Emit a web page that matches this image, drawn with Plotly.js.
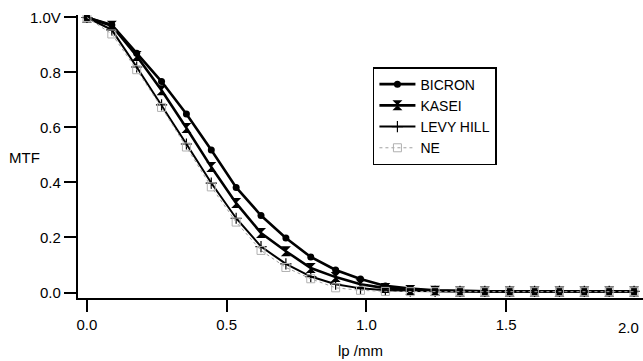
<!DOCTYPE html>
<html>
<head>
<meta charset="utf-8">
<script src="https://cdn.plot.ly/plotly-3.0.1.min.js"></script>
<style>html,body{margin:0;padding:0;background:#fff;}#chart{width:643px;height:361px;}</style>
</head>
<body>
<div id="chart"></div>
<script>
// spatial frequency, lp/mm
const freq = [0, 0.089, 0.178, 0.267, 0.356, 0.445, 0.534, 0.623, 0.712, 0.801, 0.890, 0.979,
  1.068, 1.157, 1.246, 1.335, 1.424, 1.513, 1.602, 1.691, 1.780, 1.869, 1.958];
const bicron = [1.0, 0.973, 0.870, 0.767, 0.649, 0.518, 0.382, 0.280, 0.198, 0.129, 0.082, 0.049,
  0.024, 0.014, 0.008, 0.005, 0.004, 0.004, 0.004, 0.004, 0.004, 0.004, 0.004];
const kasei = [1.0, 0.970, 0.860, 0.735, 0.598, 0.456, 0.325, 0.216, 0.150, 0.089, 0.056, 0.030,
  0.016, 0.009, 0.006, 0.004, 0.004, 0.004, 0.004, 0.004, 0.004, 0.004, 0.004];
const levyHill = [1.0, 0.955, 0.820, 0.682, 0.540, 0.398, 0.270, 0.167, 0.104, 0.058, 0.030, 0.015,
  0.008, 0.005, 0.004, 0.004, 0.004, 0.004, 0.004, 0.004, 0.004, 0.004, 0.004];
const ne = [1.0, 0.940, 0.810, 0.673, 0.529, 0.384, 0.256, 0.153, 0.091, 0.050, 0.017, 0.008,
  0.004, 0.003, 0.003, 0.003, 0.003, 0.003, 0.003, 0.003, 0.003, 0.003, 0.003];
const seriesNames = ['BICRON', 'KASEI', 'LEVY HILL', 'NE'];
const yTickVals = [0, 0.2, 0.4, 0.6, 0.8, 1.0];
const yTickText = ['0.0', '0.2', '0.4', '0.6', '0.8', '1.0V'];
const xTickVals = [0, 0.5, 1.0, 1.5];
const xTickText = ['0.0', '0.5', '1.0', '1.5'];
const xLastTick = '2.0';

const FONT = 'Liberation Sans, Arial, sans-serif';
const PLOT_W = 565, PLOT_H = 283, TICK_LEN = 12;
const X_RANGE = [-0.032, 1.99];
const Y_RANGE = [-0.02, 1.009];
// tick marks drawn as unclipped line markers, placed half a tick length outside each axis
const xUnitsPerPx = (X_RANGE[1] - X_RANGE[0]) / PLOT_W;
const yUnitsPerPx = (Y_RANGE[1] - Y_RANGE[0]) / PLOT_H;
const xTickMarkY = xTickVals.map(function () { return Y_RANGE[0] - (TICK_LEN / 2) * yUnitsPerPx; });
const yTickMarkX = yTickVals.map(function () { return X_RANGE[0] - (TICK_LEN / 2) * xUnitsPerPx; });

const traces = [
  {x: freq, y: bicron, name: seriesNames[0], mode: 'lines+markers',
   line: {color: '#000', width: 2.6},
   marker: {symbol: 'circle', size: 7, color: '#000'}},
  {x: freq, y: kasei, name: seriesNames[1], mode: 'lines+markers',
   line: {color: '#000', width: 2.6},
   marker: {symbol: 'hourglass', size: 10, color: '#000'}},
  {x: freq, y: levyHill, name: seriesNames[2], mode: 'lines+markers',
   line: {color: '#000', width: 2},
   marker: {symbol: 'cross-thin', size: 8, color: '#000', line: {color: '#000', width: 1.2}}},
  {x: freq, y: ne, name: seriesNames[3], mode: 'lines+markers',
   line: {color: '#a0a0a0', width: 1, dash: 'dot'},
   marker: {symbol: 'square-open', size: 8, color: '#b0b0b0', line: {color: '#b0b0b0', width: 1}}},
  {x: xTickVals, y: xTickMarkY, mode: 'markers', showlegend: false, hoverinfo: 'skip', cliponaxis: false,
   marker: {symbol: 'line-ns', size: TICK_LEN, color: '#000', line: {color: '#000', width: 2}}},
  {x: yTickMarkX, y: yTickVals, mode: 'markers', showlegend: false, hoverinfo: 'skip', cliponaxis: false,
   marker: {symbol: 'line-ew', size: TICK_LEN, color: '#000', line: {color: '#000', width: 1.6}}}
];

const layout = {
  width: 643, height: 361,
  margin: {l: 78, r: 0, t: 15, b: 63},
  paper_bgcolor: '#fff', plot_bgcolor: '#fff',
  font: {family: FONT, color: '#000', size: 15},
  showlegend: true,
  legend: {
    x: 0.522, y: 0.816, xanchor: 'left', yanchor: 'top',
    bordercolor: '#000', borderwidth: 1.5, bgcolor: '#fff',
    itemwidth: 36,
    font: {family: FONT, size: 14, color: '#000'}
  },
  xaxis: {
    range: X_RANGE,
    tickmode: 'array', tickvals: xTickVals, ticktext: xTickText,
    showgrid: false, zeroline: false,
    showline: true, linecolor: '#000', linewidth: 1.8,
    ticks: 'outside', ticklen: TICK_LEN, tickwidth: 2, tickcolor: '#000',
    tickfont: {family: FONT, size: 15},
    title: {text: 'lp /mm', font: {family: FONT, size: 15}, standoff: 14}
  },
  yaxis: {
    range: Y_RANGE,
    tickmode: 'array', tickvals: yTickVals, ticktext: yTickText,
    showgrid: false, zeroline: false,
    showline: true, linecolor: '#000', linewidth: 2.4,
    ticks: 'outside', ticklen: TICK_LEN, tickwidth: 1.6, tickcolor: '#000',
    tickfont: {family: FONT, size: 15}
  },
  annotations: [
    {text: 'MTF', xref: 'paper', yref: 'paper', x: (24 - 78) / PLOT_W, y: (298 - 157) / PLOT_H,
     xanchor: 'center', yanchor: 'middle', showarrow: false, font: {family: FONT, size: 15}},
    {text: xLastTick, xref: 'paper', yref: 'paper', x: (628 - 78) / PLOT_W, y: (298 - 327) / PLOT_H,
     xanchor: 'center', yanchor: 'middle', showarrow: false, font: {family: FONT, size: 15}}
  ]
};

Plotly.newPlot('chart', traces, layout, {displayModeBar: false});
</script>
</body>
</html>
